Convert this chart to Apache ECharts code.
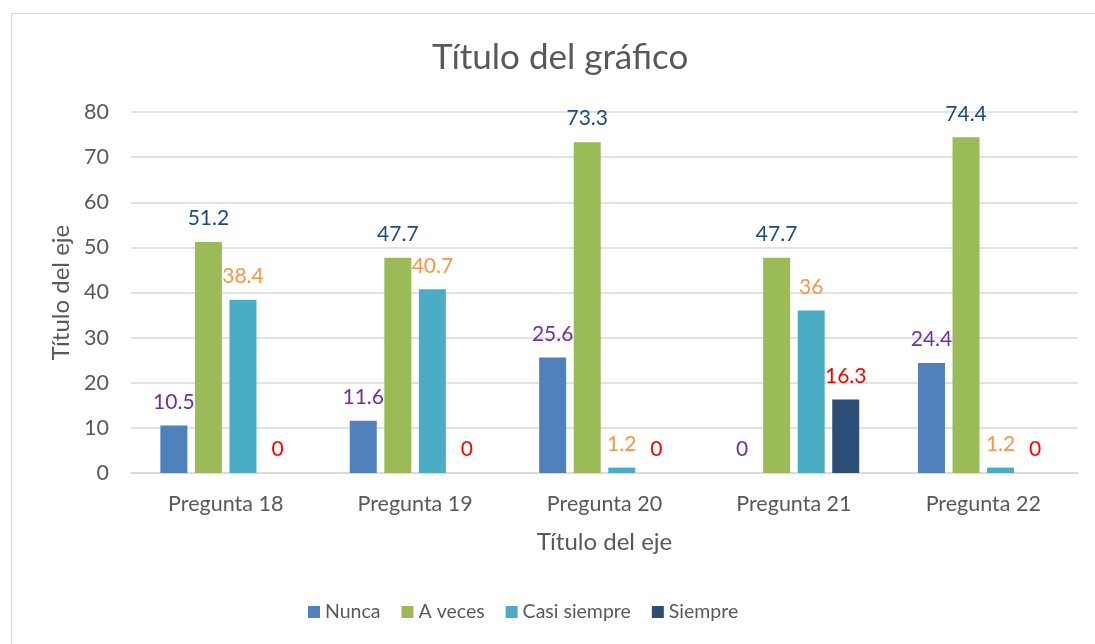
<!DOCTYPE html>
<html>
<head>
<meta charset="utf-8">
<script src="https://cdn.jsdelivr.net/npm/echarts@6/dist/echarts.min.js"></script>
<style>
  html, body { margin: 0; padding: 0; background: #fff; }
  #chart { width: 1095px; height: 644px; }
</style>
</head>
<body>
<div id="chart"></div>
<script>
// datos del gráfico
var categories = ['Pregunta 18', 'Pregunta 19', 'Pregunta 20', 'Pregunta 21', 'Pregunta 22'];
var seriesNames = ['Nunca', 'A veces', 'Casi siempre', 'Siempre'];
var nunca = [10.5, 11.6, 25.6, 0, 24.4];
var aVeces = [51.2, 47.7, 73.3, 47.7, 74.4];
var casiSiempre = [38.4, 40.7, 1.2, 36, 1.2];
var siempre = [0, 0, 0, 16.3, 0];

var barColors = ['#4F81BD', '#9BBB59', '#4BACC6', '#2C4D75'];
var labelColors = ['#7030A0', '#1F497D', '#F79646', '#FF0000'];
var values = [nunca, aVeces, casiSiempre, siempre];

var font = 'Lato, "Open Sans", sans-serif';
var grey = '#595959';

var myChart = echarts.init(document.getElementById('chart'));

var option = {
  backgroundColor: '#fff',
  textStyle: { fontFamily: font },
  graphic: [{
    type: 'rect',
    shape: { x: 11.5, y: 13.5, width: 1200, height: 800 },
    style: { fill: 'none', stroke: '#d9d9d9', lineWidth: 1 },
    silent: true
  }],
  title: {
    text: 'Título del gráfico',
    left: 427,
    top: 35,
    textStyle: { fontFamily: font, fontSize: 35, fontWeight: 'normal', color: grey }
  },
  grid: { left: 131, right: 17, top: 112, bottom: 171 },
  legend: {
    bottom: 17,
    left: 303,
    itemWidth: 12,
    itemHeight: 12,
    itemGap: 21,
    icon: 'rect',
    textStyle: { fontFamily: font, fontSize: 19.5, color: grey },
    data: seriesNames
  },
  xAxis: {
    type: 'category',
    data: categories,
    name: 'Título del eje',
    nameLocation: 'middle',
    nameGap: 57,
    nameTextStyle: { fontFamily: font, fontSize: 24, color: grey },
    axisTick: { show: false },
    axisLine: { lineStyle: { color: '#d9d9d9', width: 1.5 } },
    axisLabel: { fontSize: 21.5, color: grey, margin: 20 }
  },
  yAxis: {
    type: 'value',
    min: 0,
    max: 80,
    interval: 10,
    name: 'Título del eje',
    nameLocation: 'middle',
    nameGap: 57,
    nameTextStyle: { fontFamily: font, fontSize: 24, color: grey },
    axisLabel: { fontSize: 21.5, color: grey, margin: 22 },
    splitLine: { lineStyle: { color: '#d9d9d9', width: 1.5 } }
  },
  series: seriesNames.map(function (name, i) {
    return {
      type: 'bar',
      name: name,
      data: values[i],
      barWidth: 27,
      barGap: '28%',
      itemStyle: { color: barColors[i] },
      label: {
        show: true,
        position: 'top',
        distance: 13,
        fontSize: 21,
        fontFamily: font,
        color: labelColors[i]
      }
    };
  })
};

myChart.setOption(option);
</script>
</body>
</html>
